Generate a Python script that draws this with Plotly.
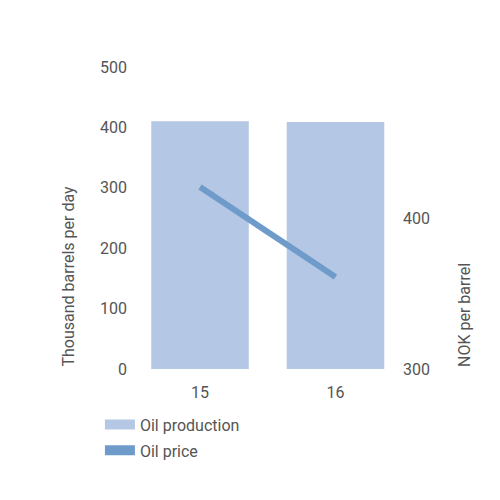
import plotly.graph_objects as go

years = [15, 16]
oil_production = [410, 409]   # thousand barrels per day
oil_price = [420.5, 361]      # NOK per barrel

bar_color = "#b4c7e4"
line_color = "#6f9bcb"
text_color = "#555555"
font_name = "Roboto"

fig = go.Figure()

fig.add_trace(go.Bar(x=years, y=oil_production, name="Oil production",
                     marker=dict(color=bar_color, line=dict(width=0)),
                     width=0.72, showlegend=False, yaxis="y"))
fig.add_trace(go.Scatter(x=years, y=oil_price, name="Oil price", mode="lines",
                         line=dict(color=line_color, width=6), showlegend=False,
                         yaxis="y2"))

# legend entries drawn as wide blocks, like the original
fig.add_trace(go.Scatter(x=[None], y=[None], mode="lines", name="Oil production",
                         legendgroup="prod", line=dict(color=bar_color, width=10)))
fig.add_trace(go.Scatter(x=[None], y=[None], mode="lines", name="Oil price",
                         legendgroup="price", line=dict(color=line_color, width=10)))

fig.update_layout(
    width=500, height=500,
    margin=dict(l=132, r=116, t=59, b=139, autoexpand=False),
    paper_bgcolor="white", plot_bgcolor="white",
    font=dict(family=font_name, size=16, color=text_color),
    xaxis=dict(range=[14.557, 16.417], tickvals=years, ticks="", showgrid=False,
               zeroline=False, showline=False, ticklabelstandoff=12, automargin=False),
    yaxis=dict(range=[0, 500], dtick=100, ticks="", showgrid=False, zeroline=False,
               showline=False, ticklabelstandoff=12, automargin=False),
    yaxis2=dict(range=[300, 500], tickvals=[300, 400], overlaying="y", side="right",
                ticks="", showgrid=False, zeroline=False, showline=False,
                ticklabelstandoff=10, automargin=False),
    legend=dict(x=-0.159, y=-0.128, xanchor="left", yanchor="top",
                font=dict(size=16), bgcolor="rgba(0,0,0,0)", tracegroupgap=2),
    annotations=[
        dict(text="Thousand barrels per day", textangle=-90, xref="paper", yref="paper",
             x=-0.2857, y=0, xanchor="center", yanchor="bottom", showarrow=False,
             font=dict(size=16, color=text_color)),
        dict(text="NOK per barrel", textangle=-90, xref="paper", yref="paper",
             x=1.2857, y=0, xanchor="center", yanchor="bottom", showarrow=False,
             font=dict(size=16, color=text_color)),
    ],
)

fig.write_html("out.html")
